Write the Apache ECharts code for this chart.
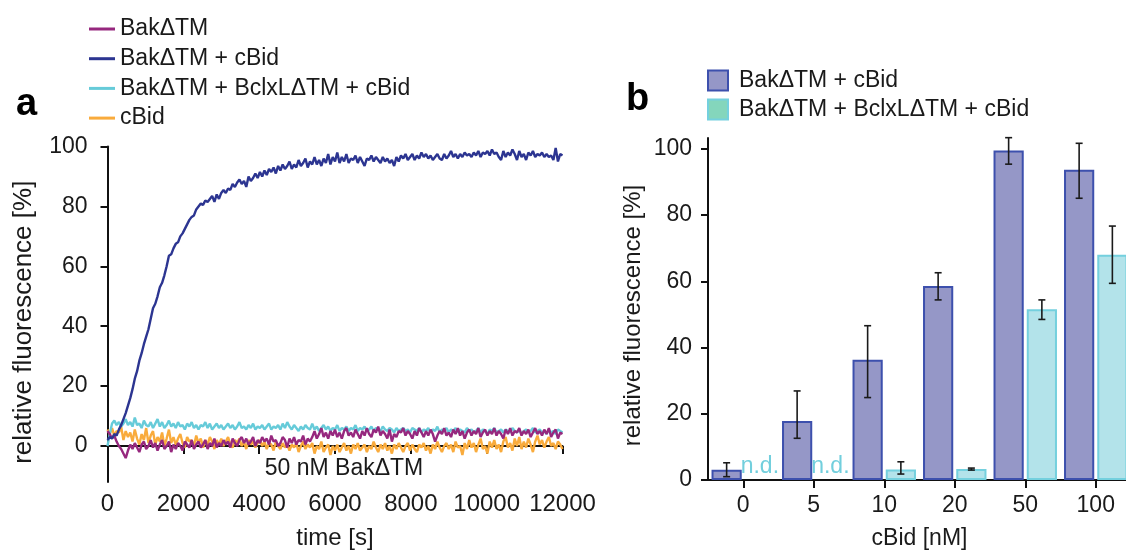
<!DOCTYPE html>
<html><head><meta charset="utf-8">
<script src="https://cdn.jsdelivr.net/npm/echarts@6/dist/echarts.min.js"></script>
<style>html,body{margin:0;padding:0;background:#fff}#c{width:1126px;height:550px}</style>
</head><body><div id="c"></div>
<script>
// ---------- Panel a: kinetics (time in s, relative fluorescence in %) ----------
var times = [0,60,120,180,240,300,360,420,480,540,
600,660,720,780,840,900,960,1020,1080,1140,
1200,1260,1320,1380,1440,1500,1560,1620,1680,1740,
1800,1860,1920,1980,2040,2100,2160,2220,2280,2340,
2400,2460,2520,2580,2640,2700,2760,2820,2880,2940,
3000,3060,3120,3180,3240,3300,3360,3420,3480,3540,
3600,3660,3720,3780,3840,3900,3960,4020,4080,4140,
4200,4260,4320,4380,4440,4500,4560,4620,4680,4740,
4800,4860,4920,4980,5040,5100,5160,5220,5280,5340,
5400,5460,5520,5580,5640,5700,5760,5820,5880,5940,
6000,6060,6120,6180,6240,6300,6360,6420,6480,6540,
6600,6660,6720,6780,6840,6900,6960,7020,7080,7140,
7200,7260,7320,7380,7440,7500,7560,7620,7680,7740,
7800,7860,7920,7980,8040,8100,8160,8220,8280,8340,
8400,8460,8520,8580,8640,8700,8760,8820,8880,8940,
9000,9060,9120,9180,9240,9300,9360,9420,9480,9540,
9600,9660,9720,9780,9840,9900,9960,10020,10080,10140,
10200,10260,10320,10380,10440,10500,10560,10620,10680,10740,
10800,10860,10920,10980,11040,11100,11160,11220,11280,11340,
11400,11460,11520,11580,11640,11700,11760,11820,11880,11940,
12000];
var bakOnly = [5,4,2.5,3.5,1.5,0,-1,-2.5,-4,-1.5,
0.5,-1,1,-0.5,-2,0.5,1.5,-1,0,2,
-0.5,1,-1.5,0.5,2,-1,0,1.5,-2,0.5,
-1,1,0,-1.5,1.5,0.5,-0.5,2,-1,0.5,
1.5,-0.5,0.5,2,-1,1,0,2.5,-0.5,1,
0,2,0.5,1.5,-0.5,2.5,1,0,2,3,
1,2.5,0.5,1.5,3,0,2,1,3,1.5,
2.5,0.5,3.5,1.5,2,0,1,3,2,-0.5,
2.5,1,3,0.5,2,1.5,3.5,0.5,2.5,1.5,
3,5,2.5,4,6,3,4.5,2.5,5,3.5,
5.5,3,4.5,2.5,5,6,3.5,4.5,3,5.5,
4,2.5,5,3.5,6,4,3,5.5,4.5,6.5,
3.5,5,4,2.5,5.5,1.5,4,3,5,4.5,
6,3.5,5,4,2.5,5,3.5,6,4.5,3,
5,3.5,5.5,4,1.5,3.5,5,4,6,3.5,
4.5,3,5.5,4,6,3.5,5,2.5,4.5,5.5,
3.5,5,4,6,3,4.5,5.5,3.5,5,4,
6,3.5,5,4,2.5,5.5,4,6,3.5,5,
4.5,6,3.5,5,4,5.5,3,4.5,6,4,
5,3.5,5.5,4,6,3,4.5,5.5,2.5,4.5,
4];
var bakCbid = [2,3,2.5,4,3.5,5.5,7,9,11,13.5,
16,19,22.5,25,28.5,31,34,36.5,39,42.5,
46,47.5,50,53,54.5,57,60,63.5,64,66,
67.5,68,70,71,72.5,74,75.5,76.5,77,79,
80,81,80.5,82,81.5,82.5,83.5,81.5,84,82.5,
84.5,85.5,84.5,86,85.5,87.5,86.5,88,89,87.5,
88.5,86.5,90,88.5,89.5,91,89.5,91.5,90,92,
90.5,92.5,91.5,93,91,93.5,92,94,92.5,93.5,
95,92.5,94,93,95.5,93.5,94.5,96,93,95,
94,96.5,94,95.5,93.5,96,94.5,97.5,94,96.5,
95,98,94.5,96.5,95,97.5,94.5,96,95.5,97,
94.5,96.5,95,93.5,96,95.5,97,95,96.5,95.5,
94.5,96.5,95,96,94.5,95.5,93.5,96.5,95,97,
96,97.5,95.5,96.5,97.5,95.5,97,96,98,96.5,
97.5,96,97,95.5,96.5,97.5,96,95.5,97.5,96,
97,98.5,96.5,97.5,96,97.5,96.5,98,97,97.5,
96.5,98,97,98.5,96.5,98,97.5,98.5,97,99,
97.5,98,96.5,95.5,98.5,96.5,98,97,99,97.5,
95.5,98.5,96.5,97.5,95.5,98,97,98.5,96.5,97.5,
97,98,96.5,97.5,96.5,97,95.5,99.5,95,97.5,
97];
var bakBclCbid = [0,4,7.5,8.5,7,8,6.5,7.5,9,7,
8,6.5,9.5,7,7.5,6,8.5,7,6.5,8,
6,7.5,9,6.5,8,6,7,8.5,6.5,7.5,
6,8,6.5,7,5.5,7.5,6.5,8,6,7,
5.5,7,6.5,8,6,7.5,5.5,6.5,7.5,6,
7,5.5,6.5,7.5,6,7,5.5,6.5,8,6,
6.5,5.5,7,6,7.5,5.5,6.5,6,7,5.5,
6.5,7.5,5.5,6.5,6,7,5.5,7.5,6,8,
6.5,5.5,7,6,5,6.5,5.5,7,6,5.5,
7.5,5.5,6.5,5,6,7,5.5,6.5,5,6,
5.5,7,5,6,5.5,6.5,5,6,5.5,7,
5,6,5.5,6.5,5,5.5,6.5,5,6,5.5,
5,6.5,5.5,5,6,5.5,4.5,6,5,5.5,
6,5,5.5,4.5,6,5.5,5,6,4.5,5.5,
5,6,4.5,5.5,5,6.5,4.5,5.5,5,6,
4.5,5.5,5,6,4.5,5.5,5,4.5,6,5,
5.5,4.5,5,6,4.5,5.5,5,4,5.5,5,
6,4.5,5,5.5,4.5,5.5,5,4.5,6,5,
4.5,5.5,4,5,5.5,4.5,5,6,4.5,5,
5.5,4.5,5,4,5.5,4.5,5,4,5.5,5,
4.5];
var cbidOnly = [5.5,4,6,3.5,5,4.5,6.5,2,5,3,
4.5,1.5,5.5,2.5,0.5,4,2,6,1,3.5,
5,0.5,3,1.5,4.5,0,2.5,5.5,1,3,
0.5,2.5,4,1,-0.5,3,1.5,2,0,3.5,
1,2.5,-0.5,2,0.5,3,1.5,-1,2,0.5,
2.5,0,1.5,3,0.5,-0.5,2,1,2.5,0,
1.5,-1,2,0.5,1.5,-0.5,1,2,0,1.5,
-1,1,0.5,-1.5,1.5,0,-1,1,-0.5,0.5,
-1.5,0.5,-0.5,1,-2,0,1.5,-1,0.5,-0.5,
1,-2.5,0,-1,1.5,-2,-0.5,0.5,-3,0,
-1.5,0.5,-2,-0.5,1,-1.5,0,-2.5,0.5,-1,
1,-1.5,-0.5,0.5,-2,0,-1,1.5,-0.5,-2,
0.5,-1,1,-1.5,0,-2.5,0.5,-1,1,-0.5,
-2,0,1,-1.5,0.5,-1,-2,0.5,-0.5,1,
-1.5,0,-2.5,0.5,-1,1.5,-0.5,-2,0,1,
-1,0.5,-2,1.5,-0.5,0,-3,1,-1,2,
-0.5,1,-2,0.5,2.5,-1,0,-2.5,1.5,-0.5,
2,-1,0.5,-2,1.5,3,-0.5,1,-1.5,2.5,
0,3,-1,1.5,-0.5,2.5,0.5,-2,1.5,3.5,
0.5,2,-0.5,1.5,3,0,1,-1,1.5,0.5,
-1];
var lineNames = ['BakΔTM','BakΔTM + cBid','BakΔTM + BclxLΔTM + cBid','cBid'];
var lineColors = ['#96287e','#2c3591','#66cbd9','#f9ab3c'];
var leftYTicks = [0,20,40,60,80,100];

// ---------- Panel b: end-point bars ----------
var cbidConc = ['0','5','10','20','50','100'];
var barNames = ['BakΔTM + cBid','BakΔTM + BclxLΔTM + cBid'];
var barMeanA = [3.1,17.8,36.3,58.6,99.5,93.7];
var barLowA  = [1.0,12.6,24.9,54.4,95.4,85.1];
var barHighA = [5.2,26.9,46.6,62.6,103.4,101.7];
var barMeanB = [null,null,3.2,3.3,51.6,68.0];   // null = n.d.
var barLowB  = [null,null,1.8,3.0,48.5,59.4];
var barHighB = [null,null,5.5,3.6,54.4,76.7];
var rightYTicks = [0,20,40,60,80,100];

var FONT = "'Liberation Sans', Arial, Helvetica, sans-serif";
var TXT = '#1a1a1a';
var chart = echarts.init(document.getElementById('c'), null, {renderer:'canvas'});

function pairs(vals){ return times.map(function(t,i){ return [t, vals[i]]; }); }
var lineVals = [bakOnly, bakCbid, bakBclCbid, cbidOnly];
var lineZ = [3,4,2,1];
var series = lineVals.map(function(v, i){
  return {
    type:'line', name: lineNames[i], xAxisIndex:0, yAxisIndex:0,
    data: pairs(v), showSymbol:false, symbol:'none', clip:false,
    z: lineZ[i], animation:false,
    lineStyle:{color: lineColors[i], width:2.4},
    itemStyle:{color: lineColors[i]}
  };
});

var fillA = '#9597c7', edgeA = '#3d50ad', fillB = '#b3e3ea', edgeB = '#74d0de';
series.push({
  type:'bar', name:'barA', xAxisIndex:1, yAxisIndex:1, data: barMeanA.slice(),
  barCategoryGap:'10%', barGap:'10%', animation:false,
  itemStyle:{color:fillA, borderColor:edgeA, borderWidth:2}
});
series.push({
  type:'bar', name:'barB', xAxisIndex:1, yAxisIndex:1, animation:false,
  barCategoryGap:'10%', barGap:'10%',
  itemStyle:{color:fillB, borderColor:edgeB, borderWidth:2},
  data: barMeanB.map(function(v){
    if (v === null) return {value:0, itemStyle:{color:'transparent', borderWidth:0},
      label:{show:true, formatter:'n.d.', position:'top', distance:2, color:'#72cfdd', fontSize:23, fontFamily:FONT}};
    return v;
  })
});
var errData = [];
cbidConc.forEach(function(c, i){
  errData.push([i, barLowA[i], barHighA[i], 0]);
  if (barHighB[i] !== null) errData.push([i, barLowB[i], barHighB[i], 1]);
});
series.push({
  type:'custom', name:'err', xAxisIndex:1, yAxisIndex:1, data: errData, z:10, animation:false,
  renderItem: function(params, api){
    var ci = api.value(0), lo = api.value(1), hi = api.value(2), si = api.value(3);
    var bw = api.size([1,0])[0];
    var barW = bw*0.9/2.1, gap = barW*0.1;
    var off = (si === 0 ? -1 : 1) * (gap/2 + barW/2);
    var pl = api.coord([ci, lo]), ph = api.coord([ci, hi]);
    var x = pl[0] + off, cap = 3.5;
    var st = {stroke:'#1a1a1a', lineWidth:1.6};
    return {type:'group', children:[
      {type:'line', shape:{x1:x, y1:ph[1], x2:x, y2:pl[1]}, style:st},
      {type:'line', shape:{x1:x-cap, y1:ph[1], x2:x+cap, y2:ph[1]}, style:st},
      {type:'line', shape:{x1:x-cap, y1:pl[1], x2:x+cap, y2:pl[1]}, style:st}
    ]};
  }
});

var axisLine = {show:true, lineStyle:{color:'#111', width:2}};
var tickLine = {color:'#111', width:2};
var option = {
  backgroundColor:'#ffffff',
  animation:false,
  textStyle:{fontFamily:FONT},
  grid:[
    {left:107.5, top:146.5, width:455, height:335.5, outerBoundsMode:'none', containLabel:false},
    {left:708, top:138, width:423, height:342, outerBoundsMode:'none', containLabel:false}
  ],
  legend:[
    {orient:'vertical', left:84, top:12, icon:'rect', itemWidth:26, itemHeight:3, itemGap:5.7,
     data: lineNames, selectedMode:false,
     textStyle:{fontSize:23, color:TXT, fontFamily:FONT, lineHeight:24}},
    {orient:'vertical', left:702, top:64, icon:'rect', itemWidth:20, itemHeight:20, itemGap:6,
     selectedMode:false,
     data:[{name:'barA', itemStyle:{color:fillA, borderColor:edgeA, borderWidth:2}},
           {name:'barB', itemStyle:{color:'#84d6bc', borderColor:edgeB, borderWidth:2}}],
     formatter:function(n){ return n === 'barA' ? barNames[0] : barNames[1]; },
     textStyle:{fontSize:23, color:TXT, fontFamily:FONT, lineHeight:23, padding:[0,0,0,6]}}
  ],
  xAxis:[
    {type:'value', gridIndex:0, min:0, max:12000, interval:2000,
     name:'time [s]', nameLocation:'middle', nameGap:44,
     nameTextStyle:{fontSize:24, color:TXT, fontFamily:FONT},
     axisLine:axisLine, axisTick:{show:true, inside:false, length:8, lineStyle:tickLine},
     axisLabel:{fontSize:24, color:TXT, margin:10, fontFamily:FONT, formatter:function(v){ return String(v); }},
     splitLine:{show:false}},
    {type:'category', gridIndex:1, data:cbidConc, boundaryGap:true,
     name:'cBid [nM]', nameLocation:'middle', nameGap:47,
     nameTextStyle:{fontSize:23, color:TXT, fontFamily:FONT},
     axisLine:axisLine, axisTick:{show:true, alignWithLabel:true, inside:false, length:8, lineStyle:tickLine},
     axisLabel:{fontSize:23, color:TXT, margin:14, fontFamily:FONT},
     splitLine:{show:false}}
  ],
  yAxis:[
    {type:'value', gridIndex:0, min:-12, max:100,
     name:'relative fluorescence [%]', nameLocation:'middle', nameGap:71, nameRotate:90,
     nameTextStyle:{fontSize:26, color:TXT, fontFamily:FONT, padding:[0,16,0,0]},
     axisLine:axisLine,
     axisTick:{show:true, inside:false, length:7, lineStyle:tickLine, customValues:leftYTicks},
     axisLabel:{fontSize:23, color:TXT, margin:20, fontFamily:FONT, customValues:leftYTicks},
     splitLine:{show:false}},
    {type:'value', gridIndex:1, min:0, max:103.3,
     name:'relative fluorescence [%]', nameLocation:'middle', nameGap:63, nameRotate:90,
     nameTextStyle:{fontSize:24, color:TXT, fontFamily:FONT, padding:[0,13,0,0]},
     axisLine:axisLine,
     axisTick:{show:true, inside:false, length:7, lineStyle:tickLine, customValues:rightYTicks},
     axisLabel:{fontSize:23, color:TXT, margin:16, fontFamily:FONT, customValues:rightYTicks},
     splitLine:{show:false}}
  ],
  graphic:[
    {type:'text', left:16, top:86, style:{text:'a', fontSize:38, fontWeight:'bold', fill:'#000', fontFamily:FONT}},
    {type:'text', left:626, top:81, style:{text:'b', fontSize:38, fontWeight:'bold', fill:'#000', fontFamily:FONT}},
    {type:'text', x:344, y:469, style:{text:'50 nM BakΔTM', fontSize:23, fill:TXT, fontFamily:FONT, align:'center', verticalAlign:'middle'}, z:100}
  ],
  series: series
};
chart.setOption(option);
</script>
</body></html>
